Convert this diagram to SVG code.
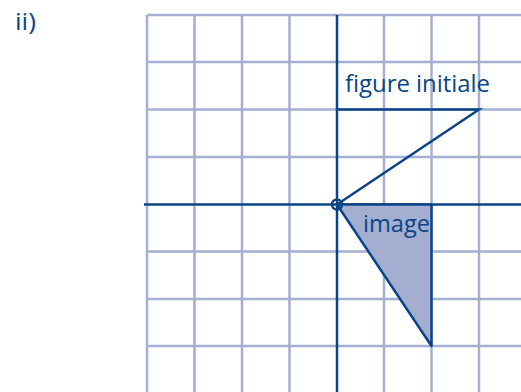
<svg xmlns="http://www.w3.org/2000/svg" width="521" height="392" viewBox="0 0 521 392">
<style>
.g{stroke:#a5afd1;stroke-width:2.5;fill:none}
.a{stroke:#0b4586;stroke-width:2.5;fill:none}
.t{font-family:"Open Sans",sans-serif;font-size:23px;fill:#0b4586}
</style>
<rect width="521" height="392" fill="#fff"/>
<g id="grid">
<path class="g" d="M147,15V392M194.5,15V392M242,15V392M289.5,15V392M384,15V392M431.5,15V392M479,15V392M147,15H521M147,62H521M147,109.5H521M147,157H521M147,251.5H521M147,299H521M147,346H521"/>
</g>
<g id="axes">
<path class="a" d="M144,204.5H521M337,15V392"/>
</g>
<g id="image">
<polygon points="337,204.5 431.5,204.5 431.5,346" fill="#a3aed0" stroke="#0b4586" stroke-width="2.5" stroke-linejoin="round"/>
</g>
<g id="figure">
<polyline class="a" points="337,109.5 479,109.5 337,204.5"/>
</g>
<g id="origin">
<circle cx="337" cy="204.5" r="5" fill="none" stroke="#0b4586" stroke-width="2.5"/>
</g>
<text class="t" x="15" y="30" textLength="21" lengthAdjust="spacingAndGlyphs">ii)</text>
<text class="t" x="345" y="92" textLength="145" lengthAdjust="spacingAndGlyphs">figure initiale</text>
<text class="t" x="363" y="232" textLength="67" lengthAdjust="spacingAndGlyphs">image</text>
</svg>
